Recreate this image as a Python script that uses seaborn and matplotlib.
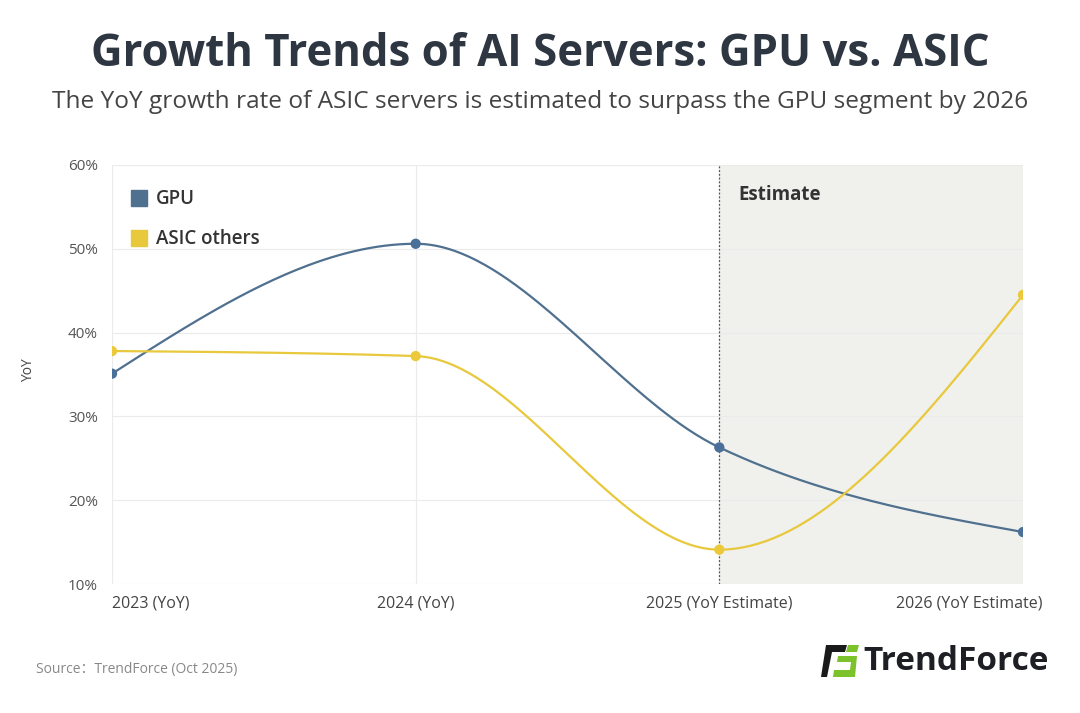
import numpy as np
import pandas as pd
import matplotlib
matplotlib.use('Agg')
import matplotlib.pyplot as plt
import matplotlib.transforms as mtransforms
from matplotlib.lines import Line2D
from matplotlib.patches import Polygon
import seaborn as sns

# data
years = ['2023 (YoY)', '2024 (YoY)', '2025 (YoY Estimate)', '2026 (YoY Estimate)']
gpu = [35.1, 50.6, 26.3, 16.2]
asic = [37.8, 37.2, 14.1, 44.5]
y_ticks = [10, 20, 30, 40, 50, 60]
series_names = ['GPU', 'ASIC others']
colors = {'GPU': '#50708f', 'ASIC others': '#e8c83c'}
marker_colors = {'GPU': '#4a6f99', 'ASIC others': '#ecc93a'}


def monotone_curve(ys, n=80):
    # monotone cubic (same rule as d3 curveMonotoneX)
    ys = np.asarray(ys, dtype=float)
    k = len(ys)
    s = np.diff(ys)
    t = np.zeros(k)
    for i in range(1, k - 1):
        s0, s1 = s[i - 1], s[i]
        p = (s0 + s1) / 2
        t[i] = (np.sign(s0) + np.sign(s1)) * min(abs(s0), abs(s1), 0.5 * abs(p))
    t[0] = (3 * s[0] - t[1]) / 2
    t[-1] = (3 * s[-1] - t[-2]) / 2
    xs_out, ys_out = [], []
    for i in range(k - 1):
        u = np.linspace(0, 1, n)
        h00 = 2 * u**3 - 3 * u**2 + 1
        h10 = u**3 - 2 * u**2 + u
        h01 = -2 * u**3 + 3 * u**2
        h11 = u**3 - u**2
        yy = h00 * ys[i] + h10 * t[i] + h01 * ys[i + 1] + h11 * t[i + 1]
        xs_out.extend(list(i + u))
        ys_out.extend(list(yy))
    return np.array(xs_out), np.array(ys_out)


pts = pd.DataFrame({
    'x': list(range(len(years))) * 2,
    'value': gpu + asic,
    'series': ['GPU'] * len(gpu) + ['ASIC others'] * len(asic),
})

curves = []
for name, vals in zip(series_names, [gpu, asic]):
    cx, cy = monotone_curve(vals)
    curves.append(pd.DataFrame({'x': cx, 'value': cy, 'series': name}))
curves = pd.concat(curves, ignore_index=True)

sns.set_style('white')
plt.rcParams['font.family'] = ['Open Sans', 'DejaVu Sans']

fig = plt.figure(figsize=(10.8, 7.13), dpi=100)
ax = fig.add_axes([112 / 1080, 1 - 584 / 713, (1023 - 112) / 1080, (584 - 165) / 713])

ax.axvspan(2, 3, color='#f0f1ec', zorder=0.2, lw=0)
ax.axvline(2, color='#555555', lw=0.9, ls=(0, (1.5, 1.5)), zorder=1)

sns.lineplot(data=curves, x='x', y='value', hue='series', palette=colors,
             sort=False, estimator=None, lw=1.6, ax=ax, legend=False, zorder=3)
sns.scatterplot(data=pts, x='x', y='value', hue='series', palette=marker_colors,
                s=55, edgecolor='none', ax=ax, legend=False, zorder=4)

ax.set_xlim(0, 3)
ax.set_ylim(10, 60)
ax.set_yticks(y_ticks)
ax.set_yticklabels([f'{v}%' for v in y_ticks], fontsize=11, color='#555555')
ax.set_xticks(range(len(years)))
ax.set_xticklabels(years, fontsize=11.5, color='#444444')
ax.tick_params(axis='both', length=0, pad=8)
ax.tick_params(axis='y', pad=10)
ax.set_xlabel('')
ax.set_ylabel('')
ax.grid(True, color='#ebebeb', lw=0.8)
ax.set_axisbelow(True)
for sp in ax.spines.values():
    sp.set_visible(False)

# keep the first and last x labels inside the frame
xl = ax.get_xticklabels()
xl[0].set_ha('left')
xl[-1].set_ha('right')
xl[-1].set_transform(xl[-1].get_transform() + mtransforms.ScaledTranslation(20 / 100, 0, fig.dpi_scale_trans))

handles = [Line2D([], [], marker='s', ls='none', markersize=12, color=colors[n]) for n in series_names]
ax.legend(handles, series_names, loc='upper left', bbox_to_anchor=(0.002, 0.982), frameon=False,
          labelspacing=1.05, handlelength=0.9, handletextpad=0.45,
          prop={'weight': 'semibold', 'size': 13.5})
for txt in ax.get_legend().get_texts():
    txt.set_color('#333333')

ax.text(2.063, 56.4, 'Estimate', fontsize=13.5, fontweight='bold', color='#333333', va='center')

fig.text(0.026, 1 - 370 / 713, 'YoY', rotation=90, fontsize=10, color='#444444', ha='center', va='center')

fig.text(0.5, 1 - 54 / 713, 'Growth Trends of AI Servers: GPU vs. ASIC', ha='center', va='center',
         fontsize=31.5, fontweight='bold', color='#2e3642')
fig.text(0.5, 1 - 102 / 713,
         'The YoY growth rate of ASIC servers is estimated to surpass the GPU segment by 2026',
         ha='center', va='center', fontsize=17.6, color='#444444')

fig.text(36 / 1080, 1 - 669 / 713, 'Source\uff1aTrendForce (Oct 2025)', ha='left', va='center',
         fontsize=10, color='#888888', family=['Open Sans', 'Noto Sans CJK SC', 'DejaVu Sans'])

# logo
def px(x, y):
    return (x / 1080, 1 - y / 713)

fig.patches.append(Polygon([px(826, 645), px(847, 645), px(845, 652), px(832, 652), px(827, 677), px(821, 677)],
                           closed=True, transform=fig.transFigure, facecolor='#1a1a1a', edgecolor='none'))
fig.patches.append(Polygon([px(848, 645), px(859, 645), px(857, 652), px(846, 652)],
                           closed=True, transform=fig.transFigure, facecolor='#7cc22a', edgecolor='none'))
fig.patches.append(Polygon([px(838, 656), px(857, 656), px(855, 677), px(833, 677), px(834, 670), px(850, 670),
                            px(851, 662), px(837, 662)],
                           closed=True, transform=fig.transFigure, facecolor='#7cc22a', edgecolor='none'))
fig.text(863 / 1080, 1 - 661 / 713, 'TrendForce', ha='left', va='center', fontsize=24,
         fontweight='bold', color='#1d1f24')

fig.savefig('out.png', dpi=100, facecolor='white')
